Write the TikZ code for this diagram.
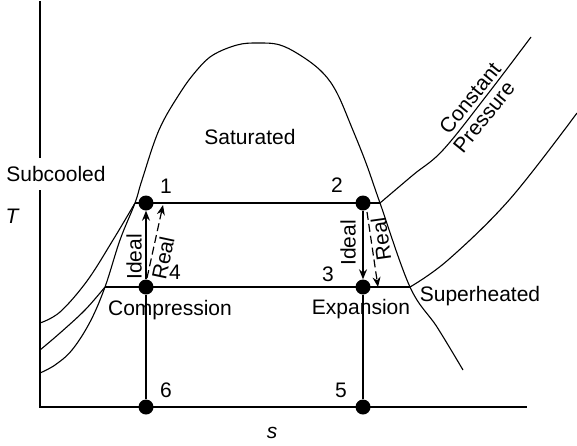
\documentclass[tikz,border=0pt]{standalone}
\usepackage{fontspec}
\setmainfont{Liberation Sans}
\usetikzlibrary{arrows.meta}
\begin{document}
\begin{tikzpicture}[x=1pt,y=-1pt,
  dot/.style={circle,fill=black,inner sep=0pt,minimum size=15pt},
  lbl/.style={font=\fontsize{21}{24}\selectfont, inner sep=0pt},
  curve/.style={line width=1.1pt},
  axis/.style={line width=1.5pt},
  arr/.style={line width=1.2pt,-{Stealth[length=10pt,width=8pt]}},
  darr/.style={line width=1.2pt,dash pattern=on 8pt off 4pt,-{Stealth[length=10pt,width=8pt]}},
  ]
\useasboundingbox (0,0) rectangle (577,445);
% axes
\coordinate (o) at (40,407);
\coordinate (ytop) at (40,1);
\coordinate (xend) at (527,407);
\draw[axis] (ytop) -- (o) -- (xend);
% dome
\draw[curve] plot[smooth,tension=0.6] coordinates {(40,373) (55,365) (72,350) (90,322) (105,287) (120,240) (135,203) (142,180) (159,130) (180,93) (197,70) (213,55) (237,45) (257,43) (280,45) (303,57) (323,73) (337,93) (352,128) (366,163) (380,203) (410,287) (437,327) (463,370)};
% constant pressure curves
\draw[curve] plot[smooth,tension=0.6] coordinates {(40,323) (60,312) (87,281) (113,240) (135,203)};
\draw[curve] (135,203) -- (380,203);
\draw[curve] plot[smooth,tension=0.6] coordinates {(380,203) (413,175) (443,150) (487,95) (531,37)};
\draw[curve] plot[smooth,tension=0.6] coordinates {(40,350) (60,333) (85,310) (105,287)};
\draw[curve] (105,287) -- (410,287);
\draw[curve] plot[smooth,tension=0.6] coordinates {(410,287) (448,260) (510,199) (577,113)};
% state points
\node[dot] (p1) at (146,203) {};
\node[dot] (p2) at (363,203) {};
\node[dot] (p3) at (363,287) {};
\node[dot] (p4) at (146,287) {};
\node[dot] (p5) at (363,407) {};
\node[dot] (p6) at (146,407) {};
\draw[curve] (p6) -- (p4);
\draw[curve] (p5) -- (p3);
\draw[arr] (p4) -- (p1.south);
\draw[arr] (p2) -- (p3.north);
\coordinate (rc1) at (147,278);
\coordinate (rc2) at (163,205);
\draw[darr] (rc1) -- (rc2);
\coordinate (re1) at (367,212);
\coordinate (re2) at (378,287);
\draw[darr] (re1) -- (re2);
% labels
\node[lbl,fill=white,inner ysep=8pt,inner xsep=1pt] (sub) at (56,174) {Subcooled};
\node[lbl] (tl) at (12,216) {\itshape T};
\node[lbl] (sl) at (272,433) {\itshape s};
\node[lbl] (sat) at (250,137) {Saturated};
\node[lbl] (sup) at (480,296) {Superheated};
\node[lbl] (comp) at (170,310) {Compression};
\node[lbl] (exp) at (361,309) {Expansion};
\node[lbl] (n1) at (166,186) {1};
\node[lbl] (n2) at (337,185) {2};
\node[lbl] (n3) at (328,274) {3};
\node[lbl] (n4) at (175,272) {4};
\node[lbl] (n5) at (341,390) {5};
\node[lbl] (n6) at (166,390) {6};
\node[lbl,rotate=90] (id1) at (134,257) {Ideal};
\node[lbl,rotate=78] (re1l) at (163,258) {Real};
\node[lbl,rotate=90] (id2) at (348,243) {Ideal};
\node[lbl,rotate=98] (re2l) at (381,239) {Real};
\node[lbl,rotate=51] (cst) at (470,98) {Constant};
\node[lbl,rotate=51] (prs) at (484,117) {Pressure};
\end{tikzpicture}
\end{document}
